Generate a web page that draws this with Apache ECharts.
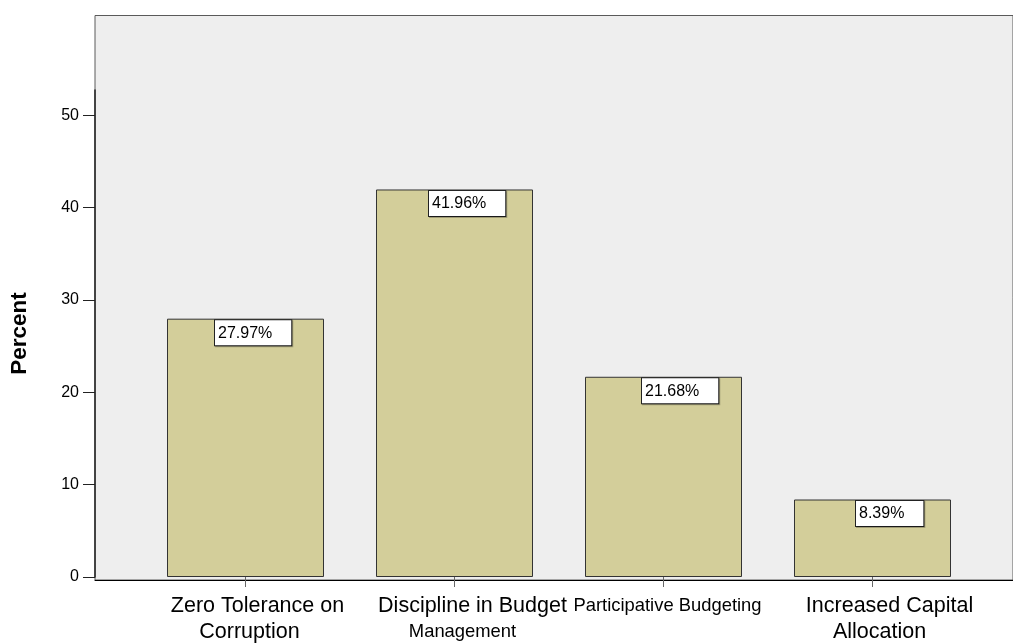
<!DOCTYPE html>
<html>
<head>
<meta charset="utf-8">
<script src="https://cdn.jsdelivr.net/npm/echarts@6/dist/echarts.min.js"></script>
<style>
  html, body { margin: 0; padding: 0; background: #ffffff; }
  #chart { width: 1013px; height: 643px; }
</style>
</head>
<body>
<div id="chart"></div>
<script>
// Share of responses per budget-reform category (percent)
const categories = [
  'Zero Tolerance on\nCorruption',
  'Discipline in Budget\nManagement',
  'Participative Budgeting',
  'Increased Capital\nAllocation'
];
const percentValues = [27.97, 41.96, 21.68, 8.39];
const yTickValues = [0, 10, 20, 30, 40, 50];
const axisTitle = 'Percent';

// Label styling (kept apart from the data)
const lineStyles = [['big', 'big'], ['big', 'small'], ['small'], ['big', 'big']];
// horizontal nudge of each category label line, in px to the right
const lineNudge = [[12, 4], [18, 8], [4], [17, 7]];
const valueBoxShift = [48, 53, 57, 62];

const FONT = 'Arial, "Liberation Sans", Helvetica, sans-serif';
const BAR_COLOR = '#d3ce9a';

const chart = echarts.init(document.getElementById('chart'), null, { renderer: 'canvas' });

const barData = percentValues.map((v, i) => ({
  value: v,
  label: { position: [valueBoxShift[i], 1.5] }
}));

// rich-text styles: one per font size and nudge combination
const rich = {};
lineStyles.forEach((row, i) => row.forEach((s, k) => {
  const key = s + i + '_' + k;
  rich[key] = {
    fontFamily: FONT,
    fontSize: s === 'big' ? 21.5 : 18.4,
    color: '#000',
    lineHeight: 26,
    padding: [0, 0, 0, lineNudge[i][k] * 2]
  };
}));

const option = {
  animation: false,
  backgroundColor: '#ffffff',
  grid: [
    // plot frame with grey background
    { left: 95, right: -2, top: 15.5, bottom: 63, show: true,
      backgroundColor: '#eeeeee', borderColor: '#5a5a5a', borderWidth: 1 },
    // bar area
    { left: 141, right: 36, top: 90, bottom: 63 }
  ],
  xAxis: [
    { gridIndex: 0, type: 'value', min: 0, max: 1,
      axisLine: { show: true, lineStyle: { color: '#000', width: 1 } },
      axisTick: { show: false }, axisLabel: { show: false }, splitLine: { show: false } },
    { gridIndex: 1, type: 'category', data: categories,
      axisLine: { show: false },
      axisTick: { show: true, alignWithLabel: true, length: 10, lineStyle: { color: '#666' } },
      axisLabel: {
        margin: 16,
        interval: 0,
        formatter: (val, idx) => val.split('\n')
          .map((t, k) => '{' + lineStyles[idx][k] + idx + '_' + k + '|' + t + '}').join('\n'),
        rich: rich
      },
      splitLine: { show: false } }
  ],
  yAxis: [
    { gridIndex: 0, type: 'value', min: 0, max: 1, show: false },
    { gridIndex: 1, type: 'value', min: 0, max: 52.73, offset: 46,
      name: axisTitle, nameLocation: 'middle', nameGap: 64,
      nameTextStyle: { fontFamily: FONT, fontSize: 22.5, fontWeight: 'bold', color: '#000' },
      axisLine: { show: true, lineStyle: { color: '#222', width: 1.5 } },
      axisTick: { show: true, length: 12, customValues: yTickValues, lineStyle: { color: '#222' } },
      axisLabel: { margin: 16, customValues: yTickValues, fontFamily: FONT, fontSize: 16, color: '#000' },
      splitLine: { show: false } }
  ],
  series: [
    {
      type: 'bar',
      xAxisIndex: 1,
      yAxisIndex: 1,
      barWidth: 157,
      data: barData,
      itemStyle: { color: BAR_COLOR, borderColor: '#333', borderWidth: 1 },
      label: {
        show: true,
        formatter: p => p.value.toFixed(2) + '%',
        fontFamily: FONT,
        fontSize: 16,
        color: '#000',
        align: 'left',
        verticalAlign: 'top',
        backgroundColor: '#ffffff',
        borderColor: '#222',
        borderWidth: 1,
        padding: [5, 19, 4, 3],
        shadowColor: 'rgba(0,0,0,0.25)',
        shadowOffsetX: 1,
        shadowOffsetY: 1,
        shadowBlur: 0
      }
    }
  ]
};

chart.setOption(option);
</script>
</body>
</html>
